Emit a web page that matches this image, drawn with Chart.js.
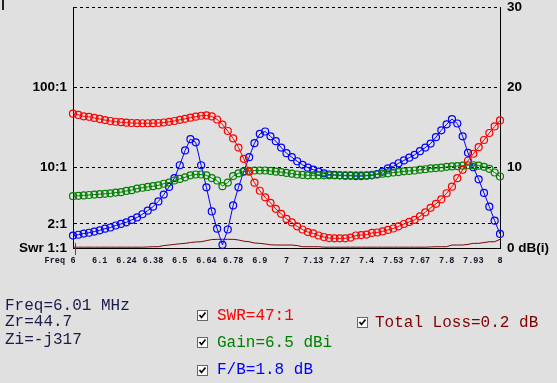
<!DOCTYPE html>
<html>
<head>
<meta charset="utf-8">
<script src="https://cdn.jsdelivr.net/npm/chart.js@4/dist/chart.umd.min.js"></script>
<style>
  body { margin: 0; background: #e0e0e0; width: 557px; height: 383px; overflow: hidden; position: relative; }
  #chart { position: absolute; left: 0; top: 0; }
  #caret { position: absolute; left: 2px; top: 0; width: 2px; height: 10px; background: #222; }
  .txt { position: absolute; font-family: "Liberation Mono", monospace; font-size: 16px; line-height: 16px; white-space: pre; }
  .info { color: #1c1c4a; }
  .box { position: absolute; }
</style>
</head>
<body>
<canvas id="chart" width="557" height="383"></canvas>
<div id="caret"></div>

<div class="txt info" style="left:5px;top:298px">Freq=6.01 MHz</div>
<div class="txt info" style="left:5px;top:314px">Zr=44.7</div>
<div class="txt info" style="left:5px;top:332px">Zi=-j317</div>

<svg class="box" style="left:197px;top:310px" width="11" height="11"><rect x="0.5" y="0.5" width="10" height="10" fill="#fff" stroke="#666"/><path d="M2.5 5 L4.5 7.5 L8.5 2.5" fill="none" stroke="#000" stroke-width="1.7"/></svg>
<div class="txt" style="left:217px;top:308px;color:#ff0000">SWR=47:1</div>

<svg class="box" style="left:197px;top:337px" width="11" height="11"><rect x="0.5" y="0.5" width="10" height="10" fill="#fff" stroke="#666"/><path d="M2.5 5 L4.5 7.5 L8.5 2.5" fill="none" stroke="#000" stroke-width="1.7"/></svg>
<div class="txt" style="left:217px;top:335px;color:#008000">Gain=6.5 dBi</div>

<svg class="box" style="left:197px;top:365px" width="11" height="11"><rect x="0.5" y="0.5" width="10" height="10" fill="#fff" stroke="#666"/><path d="M2.5 5 L4.5 7.5 L8.5 2.5" fill="none" stroke="#000" stroke-width="1.7"/></svg>
<div class="txt" style="left:217px;top:362px;color:#0000ff">F/B=1.8 dB</div>

<svg class="box" style="left:357px;top:317px" width="11" height="11"><rect x="0.5" y="0.5" width="10" height="10" fill="#fff" stroke="#666"/><path d="M2.5 5 L4.5 7.5 L8.5 2.5" fill="none" stroke="#000" stroke-width="1.7"/></svg>
<div class="txt" style="left:375px;top:315px;color:#800000">Total Loss=0.2 dB</div>

<script>
// sweep frequencies, MHz
const freqs = [
  6.000, 6.025, 6.050, 6.075, 6.100, 6.125, 6.150, 6.175, 6.200, 6.225,
  6.250, 6.275, 6.300, 6.325, 6.350, 6.375, 6.400, 6.425, 6.450, 6.475,
  6.500, 6.525, 6.550, 6.575, 6.600, 6.625, 6.650, 6.675, 6.700, 6.725,
  6.750, 6.775, 6.800, 6.825, 6.850, 6.875, 6.900, 6.925, 6.950, 6.975,
  7.000, 7.025, 7.050, 7.075, 7.100, 7.125, 7.150, 7.175, 7.200, 7.225,
  7.250, 7.275, 7.300, 7.325, 7.350, 7.375, 7.400, 7.425, 7.450, 7.475,
  7.500, 7.525, 7.550, 7.575, 7.600, 7.625, 7.650, 7.675, 7.700, 7.725,
  7.750, 7.775, 7.800, 7.825, 7.850, 7.875, 7.900, 7.925, 7.950, 7.975, 8.000
];

// SWR (x:1), left log axis
const swr = [
  47, 45.4, 43.6, 42.9, 41.6, 40.4, 39.1, 38.1, 37.3, 36.8,
  36.3, 36.0, 35.8, 35.7, 35.7, 35.8, 36.0, 36.5, 37.2, 38.1,
  39.4, 40.5, 41.9, 43.1, 44.3, 44.7, 43.4, 39.8, 34.4, 28.6,
  23.1, 17.8, 12.9, 8.9, 6.5, 5.16, 4.27, 3.65, 3.07, 2.66,
  2.30, 2.08, 1.86, 1.70, 1.58, 1.52, 1.43, 1.37, 1.33, 1.32,
  1.32, 1.32, 1.35, 1.43, 1.45, 1.47, 1.54, 1.56, 1.61, 1.68,
  1.75, 1.86, 1.99, 2.11, 2.24, 2.48, 2.78, 3.16, 3.55, 4.04,
  4.8, 5.8, 7.4, 9.4, 12.2, 14.9, 18.0, 22.1, 27.0, 32.6, 38.7
];

// gain, dBi
const gain = [
  6.45, 6.5, 6.55, 6.6, 6.65, 6.7, 6.75, 6.8, 6.9, 6.95,
  7.1, 7.2, 7.4, 7.5, 7.6, 7.7, 7.8, 8.0, 8.15, 8.4,
  8.6, 8.8, 9.05, 9.15, 9.15, 9.05, 8.7, 8.4, 7.7, 8.15,
  8.95, 9.3, 9.5, 9.6, 9.65, 9.65, 9.65, 9.6, 9.5, 9.45,
  9.35, 9.25, 9.15, 9.1, 9.05, 9.05, 9.05, 9.05, 9.05, 9.05,
  9.05, 9.05, 9.05, 9.05, 9.05, 9.05, 9.1, 9.15, 9.25, 9.3,
  9.4, 9.45, 9.55, 9.6, 9.65, 9.75, 9.8, 9.9, 9.95, 10.0,
  10.1, 10.15, 10.2, 10.25, 10.3, 10.3, 10.25, 10.1, 9.85, 9.4, 8.9
];

// front/back, dB
const fb = [
  1.55, 1.65, 1.8, 1.9, 2.05, 2.2, 2.4, 2.55, 2.8, 3.0,
  3.2, 3.5, 3.8, 4.2, 4.65, 5.15, 5.8, 6.65, 7.6, 8.7,
  10.3, 12.15, 13.55, 13.15, 10.3, 7.55, 4.55, 2.4, 0.4, 2.3,
  5.3, 7.55, 9.55, 11.3, 13.05, 14.2, 14.5, 13.9, 13.3, 12.5,
  11.8, 11.3, 10.8, 10.35, 10.0, 9.75, 9.5, 9.3, 9.15, 9.1,
  9.05, 9.0, 9.0, 8.95, 8.95, 9.0, 9.05, 9.2, 9.5, 9.9,
  10.15, 10.55, 10.9, 11.25, 11.6, 12.05, 12.5, 13.0, 13.8, 14.65,
  15.4, 16.05, 15.5, 13.9, 11.85, 10.05, 8.55, 6.85, 5.15, 3.4, 1.75
];

// total loss, dB
const loss = [
  0.1, 0.1, 0.1, 0.1, 0.1, 0.1, 0.1, 0.1, 0.1, 0.1,
  0.1, 0.1, 0.1, 0.1, 0.13, 0.16, 0.16, 0.3, 0.37, 0.45,
  0.52, 0.58, 0.68, 0.75, 0.78, 0.92, 1.05, 1.08, 1.08, 1.08,
  1.08, 1.0, 0.85, 0.78, 0.62, 0.58, 0.5, 0.4, 0.37, 0.37,
  0.37, 0.37, 0.3, 0.16, 0.16, 0.16, 0.16, 0.1, 0.1, 0.1,
  0.1, 0.1, 0.1, 0.1, 0.1, 0.1, 0.1, 0.1, 0.1, 0.1,
  0.1, 0.1, 0.1, 0.1, 0.1, 0.1, 0.1, 0.13, 0.16, 0.16,
  0.16, 0.37, 0.37, 0.37, 0.45, 0.58, 0.58, 0.68, 0.78, 0.78, 1.08
];

const xTicks = [6, 6.125, 6.25, 6.375, 6.5, 6.625, 6.75, 6.875, 7, 7.125, 7.25, 7.375, 7.5, 7.625, 7.75, 7.875, 8];
const xLabels = ['6', '6.1', '6.24', '6.38', '6.5', '6.64', '6.78', '6.9', '7', '7.13', '7.27', '7.4', '7.53', '7.67', '7.8', '7.93', '8'];
const swrTicks = [1, 2, 10, 100, 1000];
const swrLabels = ['Swr 1:1', '2:1', '10:1', '100:1', ''];
const dbTicks = [0, 10, 20, 30];
const dbLabels = ['0 dB(i)', '10', '20', '30'];
const cursorFreq = 6.01;

const pts = arr => freqs.map((f, i) => ({ x: f, y: arr[i] }));
const axisFont = { family: 'Liberation Sans', size: 13.5, weight: 'bold' };
const freqFont = 'bold 8.5px "Liberation Mono"';

function series(label, arr, color, axis) {
  return {
    label, data: pts(arr), yAxisID: axis,
    borderColor: color, borderWidth: 1,
    pointStyle: 'circle', pointRadius: 3.5, pointBorderWidth: 1.2,
    pointBorderColor: color, pointBackgroundColor: 'rgba(0,0,0,0)',
    clip: false
  };
}

const extras = {
  id: 'extras',
  afterDraw(chart) {
    const { ctx, chartArea, scales: { x } } = chart;
    ctx.save();
    ctx.font = freqFont;
    ctx.fillStyle = '#14142a';
    ctx.textAlign = 'right';
    ctx.textBaseline = 'middle';
    ctx.fillText('Freq', x.getPixelForValue(6) - 8, chartArea.bottom + 13);
    const cx = Math.round(x.getPixelForValue(cursorFreq)) + 0.5;
    ctx.strokeStyle = '#ff0000';
    ctx.lineWidth = 1;
    ctx.beginPath();
    ctx.moveTo(cx, chartArea.bottom - 5);
    ctx.lineTo(cx, chartArea.bottom + 7);
    ctx.stroke();
    ctx.restore();
  }
};

new Chart(document.getElementById('chart'), {
  type: 'line',
  data: {
    datasets: [
      series('SWR', swr, '#ff0000', 'ySwr'),
      series('Gain', gain, '#008000', 'yDb'),
      series('F/B', fb, '#0000ff', 'yDb'),
      {
        label: 'Total Loss', data: pts(loss), yAxisID: 'yDb',
        borderColor: '#800000', borderWidth: 1, pointRadius: 0, clip: false
      }
    ]
  },
  options: {
    responsive: false,
    animation: false,
    devicePixelRatio: 1,
    layout: { padding: { top: 7, left: 0, right: 0, bottom: 0 } },
    plugins: { legend: { display: false }, tooltip: { enabled: false } },
    scales: {
      x: {
        type: 'linear', min: 6, max: 8,
        afterBuildTicks: s => { s.ticks = xTicks.map(v => ({ value: v })); },
        ticks: {
          autoSkip: false, maxRotation: 0, padding: 8, color: '#14142a',
          font: { family: 'Liberation Mono', size: 8.5, weight: 'bold' },
          callback: (v, i) => xLabels[i]
        },
        grid: { display: false, drawTicks: false },
        border: { display: true, color: '#000', width: 1 },
        afterFit: s => { s.height = 135; s.paddingLeft = 0; s.paddingRight = 0; }
      },
      ySwr: {
        type: 'logarithmic', position: 'left', min: 1, max: 1000,
        afterBuildTicks: s => { s.ticks = swrTicks.map(v => ({ value: v })); },
        ticks: { autoSkip: false, padding: 6, color: '#000', font: axisFont, callback: (v, i) => swrLabels[i] },
        grid: { drawTicks: false, lineWidth: 1, color: c => (c.tick && c.tick.value === 1) ? 'rgba(0,0,0,0)' : '#000' },
        border: { display: true, color: '#000', width: 1, dash: [3, 3] },
        afterFit: s => { s.width = 73; s.paddingTop = 0; s.paddingBottom = 0; }
      },
      yDb: {
        type: 'linear', position: 'right', min: 0, max: 30,
        afterBuildTicks: s => { s.ticks = dbTicks.map(v => ({ value: v })); },
        ticks: { autoSkip: false, padding: 7, color: '#000', font: axisFont, callback: (v, i) => dbLabels[i] },
        grid: { display: false, drawTicks: false },
        border: { display: true, color: '#000', width: 1 },
        afterFit: s => { s.width = 57; s.paddingTop = 0; s.paddingBottom = 0; }
      }
    }
  },
  plugins: [extras]
});
</script>
</body>
</html>
